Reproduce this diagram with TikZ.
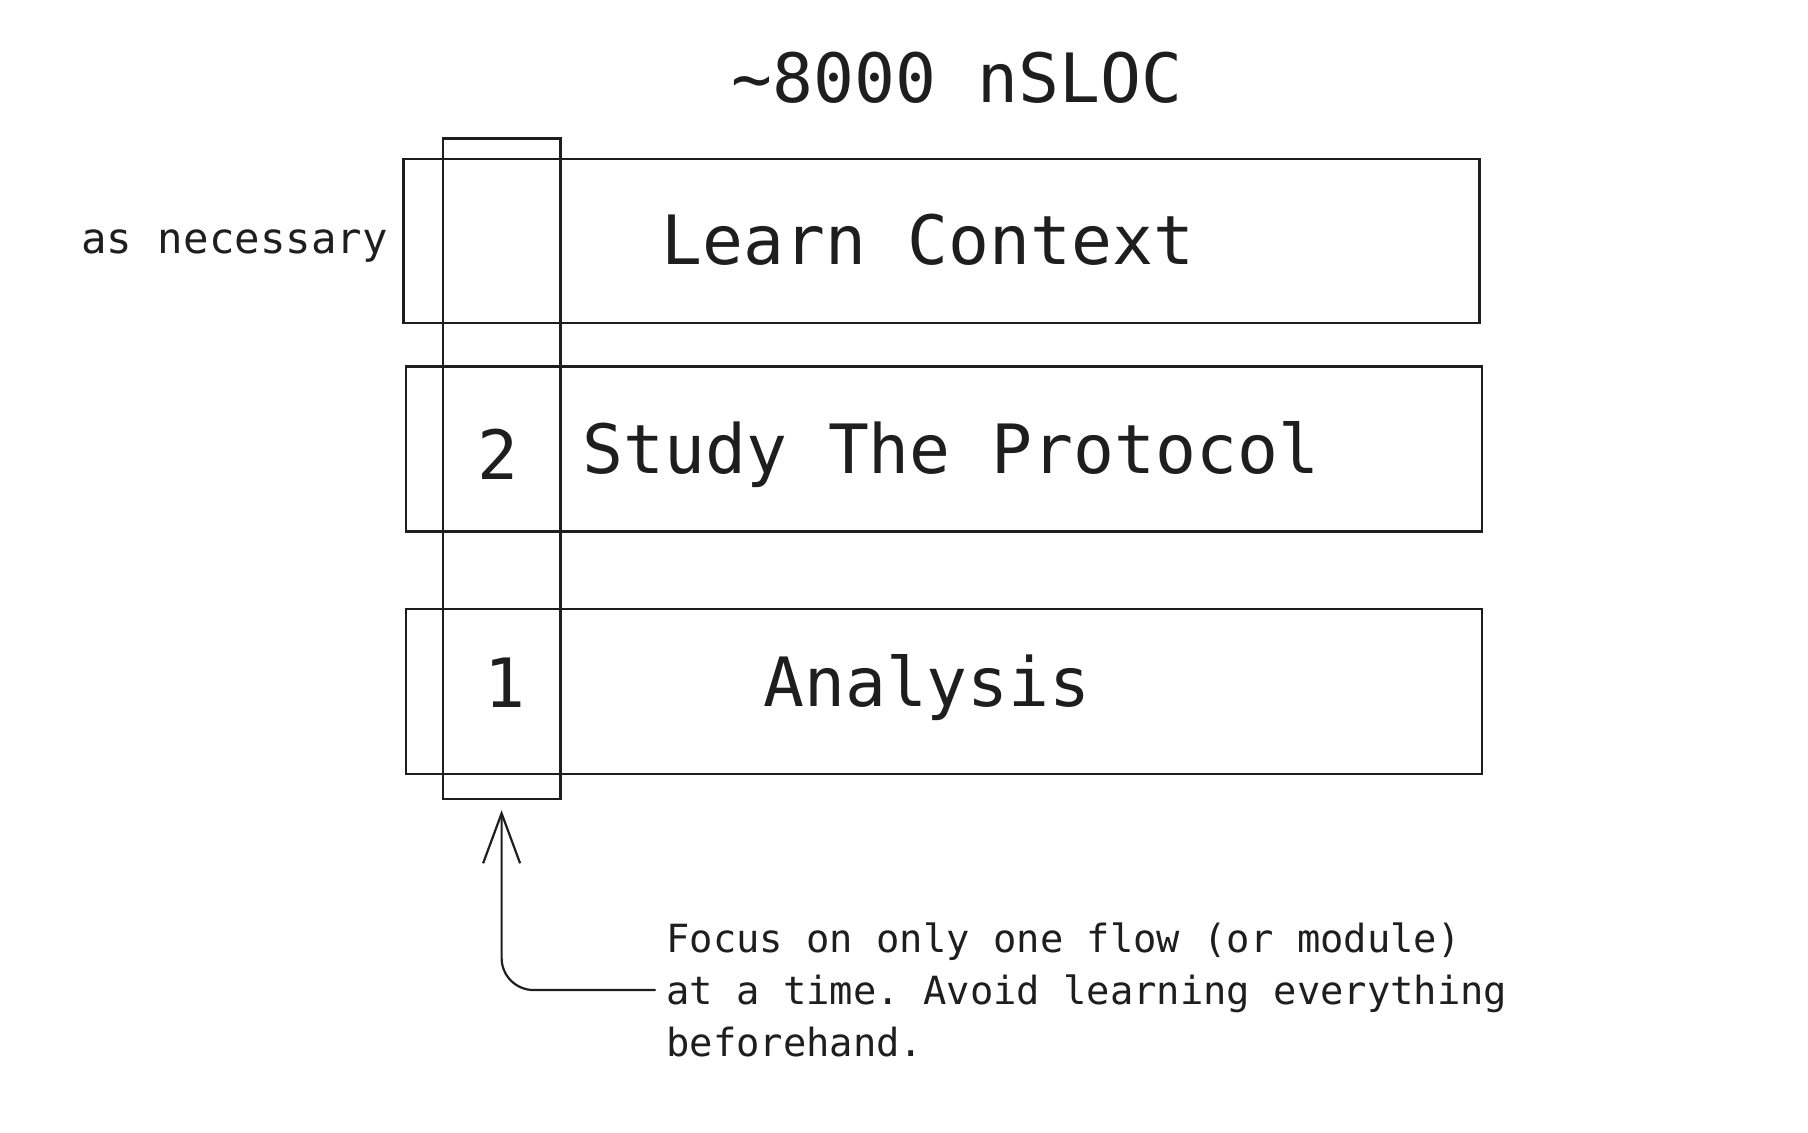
\documentclass[tikz,border=0pt]{standalone}
\usepackage{fontspec}
\setmonofont{DejaVu Sans Mono}
\usepackage{xcolor}
\definecolor{sketchInk}{HTML}{1E1E1E}
\usetikzlibrary{arrows.meta,positioning}
\tikzset{
    stepbar/.style={
        draw=sketchInk,
        rectangle,
        line width=1.15pt,
        minimum width=538pt,
        inner sep=0pt
    },
    focuscol/.style={
        draw=sketchInk,
        rectangle,
        line width=1.15pt,
        minimum width=58.8pt,
        minimum height=330.3pt,
        inner sep=0pt
    },
    bigtext/.style={
        font=\ttfamily\fontsize{34pt}{40pt}\selectfont,
        text=sketchInk,
        inner sep=0pt,
        anchor=base
    },
    sidetext/.style={
        font=\ttfamily\fontsize{21.2pt}{25pt}\selectfont,
        text=sketchInk,
        inner sep=0pt,
        anchor=base west
    },
    notetext/.style={
        font=\ttfamily\fontsize{19.4pt}{25.95pt}\selectfont,
        text=sketchInk,
        inner sep=0pt,
        align=left,
        anchor=west
    },
    arrow/.style={
        -{Straight Barb[length=25pt,width=18.5pt]},
        line width=1.1pt,
        line cap=round,
        rounded corners=16pt,
        color=sketchInk
    }
}

\begin{document}
\begin{tikzpicture}[x=0.5pt,y=-0.5pt]
    \useasboundingbox (0,0) rectangle (1808,1132);

    % Title
    \node[bigtext] (title) at (957,102) {\textasciitilde 8000 nSLOC};

    % Rows
    \node[stepbar, minimum height=82pt] (learn) at (941.5,241) {};
    \node[stepbar, minimum height=82.4pt] (study) at (943.7,449) {};
    \node[stepbar, minimum height=82.5pt] (analysis) at (943.7,691.2) {};

    % Focus column
    \node[focuscol] (col) at (501.6,468.7) {};

    % Labels
    \node[bigtext] (learnlbl) at (928,264) {Learn Context};
    \node[bigtext, anchor=base west] (studylbl) at (582,473) {Study The Protocol};
    \node[bigtext] (analysislbl) at (927,706) {Analysis};
    \node[bigtext] (two) at (498,479) {2};
    \node[bigtext] (one) at (505,707) {1};
    \node[sidetext] (needed) at (81,253) {as necessary};

    % Note
    \node[notetext] (note) at (666,990) {Focus on only one flow (or module)\\at a time. Avoid learning everything\\beforehand.};

    % Arrows
    \draw[arrow] ([xshift=-5.5pt]note.west) -| ([yshift=-5pt]col.south);
\end{tikzpicture}
\end{document}
